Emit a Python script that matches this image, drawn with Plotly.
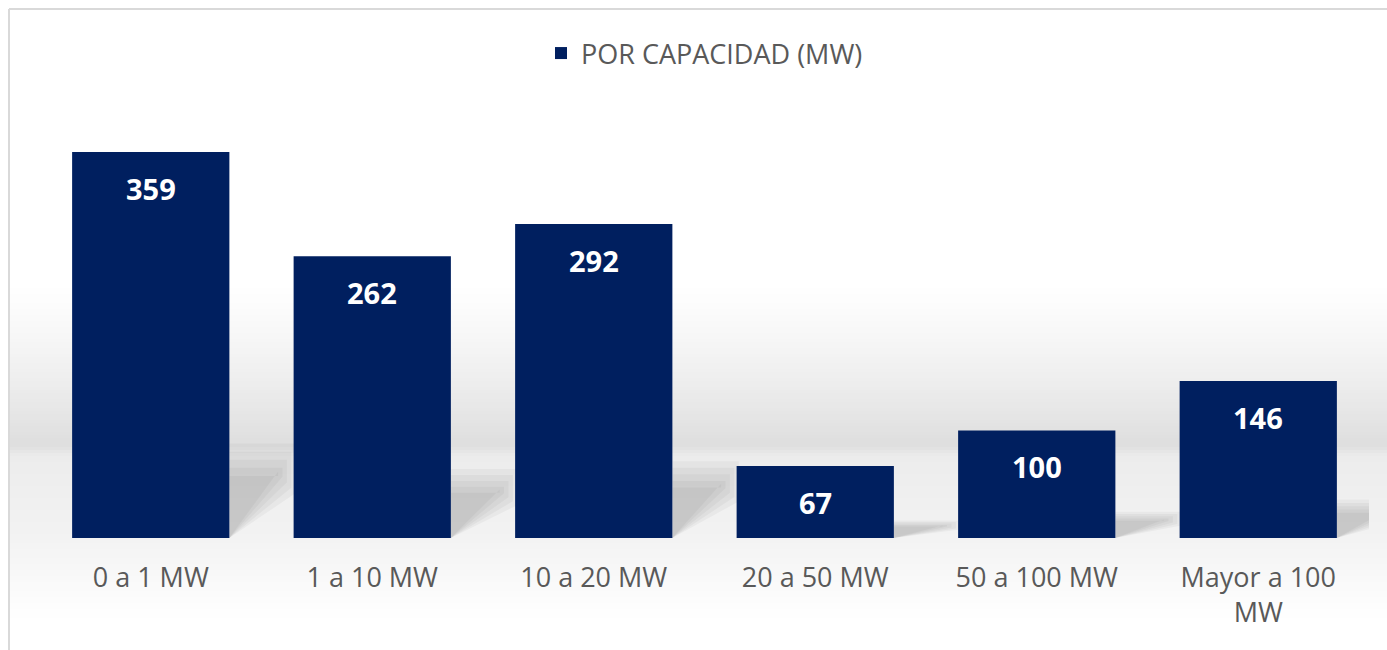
import plotly.graph_objects as go

categories = ["0 a 1 MW", "1 a 10 MW", "10 a 20 MW", "20 a 50 MW", "50 a 100 MW", "Mayor a 100<br>MW"]
values = [359, 262, 292, 67, 100, 146]
series_name = "POR CAPACIDAD (MW)"

BAR_COLOR = "#001f5f"
TEXT_GRAY = "#595959"
FONT = "Open Sans, Noto Sans, DejaVu Sans, sans-serif"

W, H = 1387, 650
L, R, T, B = 40, 18, 100, 112
pw, ph = W - L - R, H - T - B
YMAX = 407.4

def py2paper(py):
    return (H - B - py) / ph

def px2paper(px):
    return (px - L) / pw

fig = go.Figure()
fig.add_trace(go.Bar(
    x=list(range(len(categories))), y=values, name=series_name,
    marker=dict(color=BAR_COLOR, line=dict(width=0)),
    width=0.71, showlegend=True, hoverinfo="x+y",
))

# value labels inside bars near the top
for i, v in enumerate(values):
    fig.add_annotation(x=i, y=v, text=f"<b>{v}</b>", showarrow=False,
                       yanchor="top", yshift=-15,
                       font=dict(family=FONT, size=29, color="white"))

shapes = []

# background wall / floor shading (decoration only)
def gray_at(y):
    if y < 280:
        return 255
    if y < 445:
        return 255 - ((y - 280) / 165) ** 1.3 * 33
    if y < 456:
        return 222 + (y - 445) / 11 * 14
    if y < 540:
        return 236 + (y - 456) / 84 * 7
    if y < 620:
        return 243 + (y - 540) / 80 * 12
    return 255

step = 3
for y0 in range(270, 625, step):
    g = int(round(gray_at(y0 + step / 2)))
    if g >= 255:
        continue
    shapes.append(dict(type="rect", xref="paper", yref="paper",
                       x0=px2paper(10), x1=px2paper(W),
                       y0=py2paper(y0 + step), y1=py2paper(y0),
                       fillcolor=f"rgb({g},{g},{g})", line=dict(width=0), layer="below"))

# soft diagonal shadows cast to the right of each bar (layered for blur)
for i, v in enumerate(values):
    xr = i + 0.355
    xn = xr + 0.30
    h = v * 0.233
    for k in range(5):
        top = h * (1.05 - 0.09 * k)
        low = h * (0.50 + 0.06 * k)
        xe = xn - 0.02 * k
        shapes.append(dict(type="path", xref="x", yref="y",
                           path=f"M {xr},0 L {xr},{top} L {xe},{top} L {xe},{low} Z",
                           fillcolor="rgba(0,0,0,0.035)", line=dict(width=0), layer="below"))

# chart frame (left and top edges)
shapes.append(dict(type="line", xref="paper", yref="paper",
                   x0=px2paper(9), x1=px2paper(9), y0=py2paper(9), y1=py2paper(H),
                   line=dict(color="#d9d9d9", width=2)))
shapes.append(dict(type="line", xref="paper", yref="paper",
                   x0=px2paper(9), x1=px2paper(W), y0=py2paper(9), y1=py2paper(9),
                   line=dict(color="#d9d9d9", width=2)))

fig.update_layout(
    width=W, height=H,
    margin=dict(l=L, r=R, t=T, b=B),
    paper_bgcolor="white", plot_bgcolor="rgba(0,0,0,0)",
    font=dict(family=FONT, color=TEXT_GRAY),
    shapes=shapes,
    showlegend=True,
    legend=dict(orientation="h", x=0.5, xanchor="center", y=py2paper(29), yanchor="top",
                font=dict(family=FONT, size=27, color=TEXT_GRAY), bgcolor="rgba(0,0,0,0)"),
    xaxis=dict(tickmode="array", tickvals=list(range(len(categories))), ticktext=categories,
               range=[-0.5, len(categories) - 0.5], showgrid=False, zeroline=False,
               showline=False, ticks="", tickfont=dict(family=FONT, size=27, color=TEXT_GRAY),
               ticklabelstandoff=21),
    yaxis=dict(range=[0, YMAX], visible=False, showgrid=False, zeroline=False),
    bargap=0.29,
)

fig.write_html("out.html", config={"displayModeBar": False},
               post_script="document.body.style.margin='0';document.body.style.overflow='hidden';")
